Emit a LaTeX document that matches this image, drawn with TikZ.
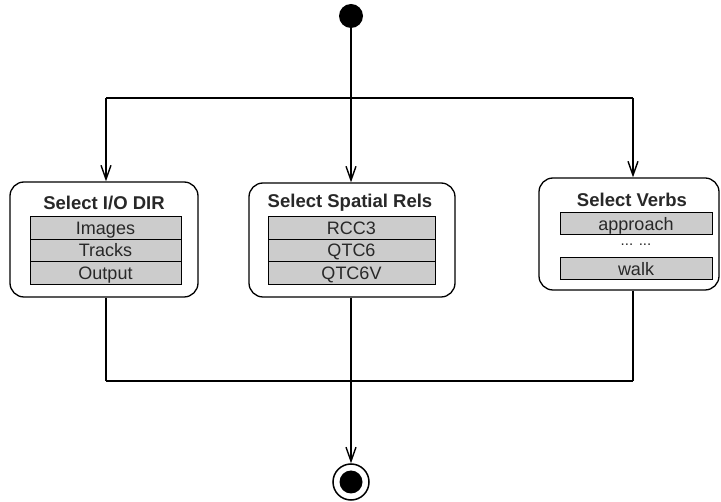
\documentclass[tikz,border=0pt]{standalone}
\usepackage{fontspec}
\setmainfont{Liberation Sans}
\usetikzlibrary{arrows.meta}
\definecolor{rowgray}{RGB}{204,204,204}
\definecolor{txt}{RGB}{40,40,40}
\tikzset{
  x=1pt,y=-1pt,
  flow/.style={line width=1.5pt,draw=black},
  arr/.style={flow,-{Straight Barb[length=14pt,width=10pt,line width=1.4pt]}},
  actbox/.style={draw=black,line width=1.3pt,rounded corners=14pt,fill=white,inner sep=0pt},
  rowbox/.style={draw=black,line width=1pt,fill=rowgray,inner sep=0pt,text=txt,
    text height=13pt,text depth=0pt,font=\fontsize{18}{18}\selectfont},
  title/.style={font=\bfseries\fontsize{18.5}{18.5}\selectfont,inner sep=0pt,text=txt},
}
\begin{document}
\begin{tikzpicture}
\useasboundingbox (0,0) rectangle (721,502);
% boxes
\node[actbox,minimum width=188pt,minimum height=115pt] (lbox) at (104,239.5) {};
\node[actbox,minimum width=206pt,minimum height=114pt] (mbox) at (352,240) {};
\node[actbox,minimum width=180pt,minimum height=112pt] (rbox) at (629,234) {};
% titles
\node[title] (lt) at (104,203) {Select I/O DIR};
\node[title] (mt) at (350,203) {Select Spatial Rels};
\node[title] (rt) at (632,200) {Select Verbs};
% rows
\node[rowbox,minimum width=151pt,minimum height=22.5pt] (l1) at (105.5,228) {Images};
\node[rowbox,minimum width=151pt,minimum height=22.5pt] (l2) at (105.5,250.5) {Tracks};
\node[rowbox,minimum width=151pt,minimum height=22.5pt] (l3) at (105.5,273) {Output};
\node[rowbox,minimum width=167pt,minimum height=22.5pt] (m1) at (351.5,228) {RCC3};
\node[rowbox,minimum width=167pt,minimum height=22.5pt] (m2) at (351.5,250.5) {QTC6};
\node[rowbox,minimum width=167pt,minimum height=22.5pt] (m3) at (351.5,273) {QTC6V};
\node[rowbox,minimum width=152pt,minimum height=22pt] (r1) at (636,224) {approach};
\node[inner sep=0pt,text=txt,font=\fontsize{15}{15}\selectfont] (rd) at (636,245) {... ...};
\node[rowbox,minimum width=152pt,minimum height=22pt] (r2) at (636,269) {walk};
% start and end
\node[circle,fill=black,minimum size=24pt,inner sep=0pt] (start) at (351,16) {};
\node[circle,draw=black,line width=1.5pt,fill=white,minimum size=36pt,inner sep=0pt] (end) at (351,482) {};
\node[circle,fill=black,minimum size=23pt,inner sep=0pt] (endin) at (351,482) {};
% fork and join coordinates
\coordinate (fl) at (106,98);
\coordinate (fm) at (351,98);
\coordinate (fr) at (633,98);
\coordinate (jl) at (106,381);
\coordinate (jm) at (351,381);
\coordinate (jr) at (633,381);
% connectors
\draw[flow] (fl) -- (fr);
\draw[flow] (start) -- (fm);
\draw[arr] (fl) -- (fl |- lbox.north);
\draw[arr] (fm) -- (fm |- mbox.north);
\draw[arr] (fr) -- (fr |- rbox.north);
\draw[flow] (jl) -- (jr);
\draw[flow] (jl |- lbox.south) -- (jl);
\draw[flow] (jm |- mbox.south) -- (jm);
\draw[flow] (jr |- rbox.south) -- (jr);
\draw[arr] (jm) -- (end);
\end{tikzpicture}
\end{document}
